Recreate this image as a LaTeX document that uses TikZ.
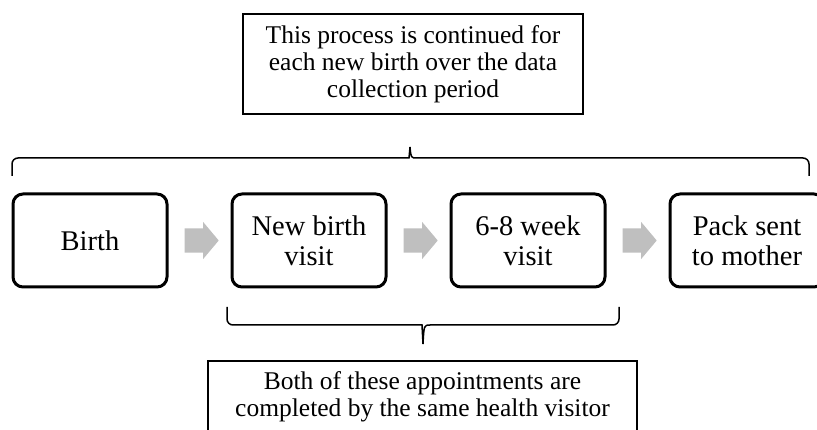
\documentclass[tikz,border=0pt]{standalone}
\usepackage{fontspec}
\setmainfont{Liberation Serif}
\usetikzlibrary{positioning,shapes.arrows,calc}
\tikzset{
  stage/.style    = {shape=rectangle, rounded corners=10pt, draw,
                     line width=3pt, align=center,
                     minimum width=154pt, minimum height=93pt,
                     font=\fontsize{28.5}{30}\selectfont},
  notebox/.style  = {shape=rectangle, draw, line width=1.5pt, align=center,
                     font=\fontsize{25.5}{27}\selectfont},
  grayarrow/.style = {single arrow, fill=gray!50, draw=none, inner sep=0pt,
                     text height=24pt, text depth=0pt, text width=0pt,
                     minimum height=34pt, single arrow head extend=6.5pt,
                     single arrow tip angle=100},
  bracket/.style  = {line width=1.5pt, rounded corners=6pt}
}
\begin{document}
\begin{tikzpicture}
  [
    x = 1pt,
    y = 1pt
  ]
  \clip (0,0) rectangle (817,-430);
  \node [stage] (birth) at (90,-240.5) {Birth};
  \node [grayarrow, right=16pt of birth] (arr1) {};
  \node [stage, right=62pt of birth] (newvisit) {New birth\\visit};
  \node [grayarrow, right=16pt of newvisit] (arr2) {};
  \node [stage, right=62pt of newvisit] (weekvisit) {6-8 week\\visit};
  \node [grayarrow, right=16pt of weekvisit] (arr3) {};
  \node [stage, right=62pt of weekvisit] (pack) {Pack sent\\to mother};

  \coordinate (topL) at (12,-176);
  \coordinate (topR) at (809,-176);
  \coordinate (topTip) at (410,-147);
  \draw [bracket] (topL) |- ($(topTip)+(-7,-11)$)
    [sharp corners] .. controls ($(topTip)+(-1,-11)$) .. (topTip)
    .. controls ($(topTip)+(1,-11)$) .. ($(topTip)+(7,-11)$)
    [rounded corners=6pt] -| (topR);
  \node [notebox, minimum width=340pt, minimum height=100pt] (process) at (413,-64)
    {This process is continued for\\each new birth over the data\\collection period};

  \coordinate (botL) at (227,-307);
  \coordinate (botR) at (619,-307);
  \coordinate (botTip) at (423,-344);
  \draw [bracket] (botL) |- ($(botTip)+(-7,19)$)
    [sharp corners] .. controls ($(botTip)+(-1,19)$) .. (botTip)
    .. controls ($(botTip)+(1,19)$) .. ($(botTip)+(7,19)$)
    [rounded corners=6pt] -| (botR);
  \node [notebox, minimum width=429pt, minimum height=72pt] (visitor) at (422.5,-397)
    {Both of these appointments are\\completed by the same health visitor};
\end{tikzpicture}
\end{document}
